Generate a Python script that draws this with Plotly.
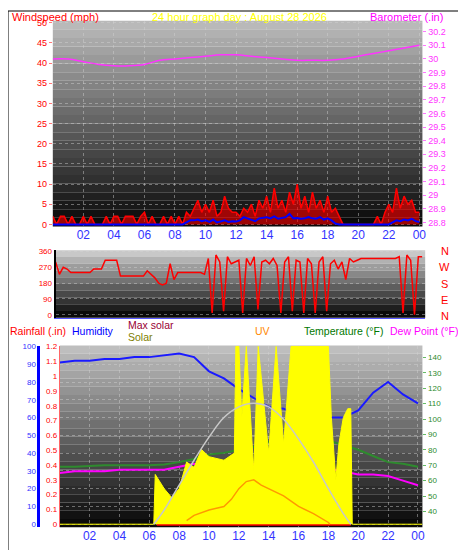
import plotly.graph_objects as go

# ---- data ----
hours_hourly = list(range(25))
barometer = [30.0, 30.0, 29.98, 29.96, 29.95, 29.95, 29.96, 29.99, 30.0, 30.01, 30.02, 30.03, 30.03,
             30.02, 30.01, 30.0, 29.99, 29.99, 29.99, 30.0, 30.02, 30.04, 30.06, 30.08, 30.1]

wind_gust = [2, 0, 2, 2, 0, 2, 0, 0, 2, 0, 2, 0, 0, 0, 2, 0,
             2, 2, 0, 2, 2, 2, 0, 2, 3, 0, 2, 0, 0, 2, 0, 2,
             0, 2, 0, 3, 2, 4, 6, 3,
             5, 3, 6, 2, 3, 7, 4, 3,
             3, 2, 4, 3, 5, 2, 6, 4,
             7, 3, 9, 4, 6, 3, 8, 5,
             10, 4, 7, 3, 8, 4, 6, 3,
             7, 3, 4, 2, 0, 0, 0, 0,
             0, 0, 0, 0, 0, 2, 0, 3,
             5, 3, 9, 4, 7, 5, 6, 3, 3]
wind_avg = [0] * 32 + [0, 0, 0, 0.5, 1, 1, 1.2, 0.8,
            1, 0.6, 1.2, 0.5, 0.8, 1, 0.6, 0.8,
            0.7, 1, 1.8, 1.5, 1.2, 0.8, 1.5, 1.6,
            1.8, 1.5, 2, 1.4, 1.6, 1.8, 2.6, 1.5,
            1.6, 1.4, 1.5, 1.8, 1.5, 1.4, 1.8, 1.2,
            1.5, 1, 0.2, 0, 0, 0, 0, 0,
            0, 0, 0, 0, 0, 0, 0, 0,
            0, 0.5, 1, 0.8, 1.2, 1, 1.4, 0.8, 0.6]
wind_dir = [300, 230, 270, 260, 240, 240, 240, 240,
            240, 240, 260, 260, 260, 310, 310, 310,
            310, 220, 220, 220, 220, 220, 220, 220,
            250, 230, 210, 180, 170, 180, 290, 200,
            240, 240, 240, 240, 240, 240, 240, 230,
            320, 10, 340, 300, 20, 330, 290, 300,
            310, 10, 320, 280, 330, 30, 300, 310,
            290, 320, 280, 10, 300, 330, 20, 310,
            300, 10, 320, 290, 10, 300, 330, 20,
            290, 310, 260, 300, 200, 320, 300, 310,
            320, 320, 320, 320, 320, 320, 320, 320,
            320, 320, 330, 10, 340, 310, 0, 330, 330]
hours_q = [i / 4 for i in range(len(wind_gust))]

humidity = [91, 92, 92, 93, 93, 94, 94, 95, 96, 94, 86, 82, 76, 71, 66, 65, 61, 61, 60, 60, 64, 74, 80, 73, 68]
temperature = [69, 69, 69.5, 70, 70, 70, 70, 70.5, 72, 74, 77, 78, 80, 82, 85, 85, 87, 87, 86, 83, 80, 76, 72, 71, 69]
dew_point = [65, 66, 66, 66, 67, 67, 67, 67, 69, 71, 70, 70, 70, 71, 70, 70, 71, 70, 68, 66, 64, 64, 63, 60, 57]

solar_t = [0, 6.3, 6.4, 7, 7.5, 8, 8.5, 9, 9.5, 10, 11, 11.7, 11.8, 12, 12.2, 12.5, 13, 13.3, 14, 14.5,
           15, 15.5, 16, 17, 18, 18.2, 18.5, 18.7, 19, 19.3, 19.5, 19.6, 24.3]
solar = [0, 0, 28, 20, 15, 20, 35, 32, 42, 38, 36, 40, 100, 100, 60, 100, 30, 100, 40, 100,
         45, 100, 100, 100, 100, 60, 25, 45, 60, 65, 65, 0, 0]
maxsolar_t = [6.3, 7, 8, 9, 10, 11, 12, 13, 14, 15, 16, 17, 18, 19, 19.5]
max_solar = [0, 8, 22, 36, 49, 60, 66, 68, 66, 59, 48, 35, 20, 6, 0]
uv_t = [8.5, 9, 10, 11, 11.5, 12, 12.5, 13, 13.5, 14, 14.5, 15, 15.5, 16, 17, 18, 18.1]
uv = [2, 5, 8, 10, 14, 20, 24, 25, 22, 20, 18, 16, 13, 10, 6, 1, 0]
rain_t = [6.5, 19.5]
rainfall = [0, 0]

tick_vals = list(range(2, 25, 2))
tick_text = ["02", "04", "06", "08", "10", "12", "14", "16", "18", "20", "22", "00"]

fig = go.Figure()
fig.add_trace(go.Scatter(x=hours_q, y=wind_gust, mode="lines", line=dict(color="red", width=1.5),
                         fill="tozeroy", fillcolor="rgba(255,0,0,0.6)", xaxis="x", yaxis="y"))
fig.add_trace(go.Scatter(x=hours_q, y=wind_avg, mode="lines", line=dict(color="blue", width=2), xaxis="x", yaxis="y"))
fig.add_trace(go.Scatter(x=hours_hourly, y=barometer, mode="lines", line=dict(color="#ff33ff", width=1.5, shape="spline"),
                         xaxis="x", yaxis="y2"))
fig.add_trace(go.Scatter(x=hours_q, y=wind_dir, mode="lines", line=dict(color="red", width=1.5), xaxis="x2", yaxis="y3"))
fig.add_trace(go.Scatter(x=solar_t, y=solar, mode="lines", line=dict(color="yellow", width=1), fill="tozeroy",
                         fillcolor="yellow", xaxis="x3", yaxis="y7"))
fig.add_trace(go.Scatter(x=maxsolar_t, y=max_solar, mode="lines", line=dict(color="#c8c8c8", width=1.5, shape="spline"),
                         xaxis="x3", yaxis="y7"))
fig.add_trace(go.Scatter(x=uv_t, y=uv, mode="lines", line=dict(color="#ff9900", width=1.5), xaxis="x3", yaxis="y8"))
fig.add_trace(go.Scatter(x=hours_hourly, y=humidity, mode="lines", line=dict(color="#1a1aff", width=2), xaxis="x3", yaxis="y4"))
fig.add_trace(go.Scatter(x=hours_hourly, y=temperature, mode="lines", line=dict(color="#2e8b2e", width=2), xaxis="x3", yaxis="y6"))
fig.add_trace(go.Scatter(x=hours_hourly, y=dew_point, mode="lines", line=dict(color="#ff00ff", width=2), xaxis="x3", yaxis="y6"))
fig.add_trace(go.Scatter(x=rain_t, y=rainfall, mode="lines", line=dict(color="red", width=3), xaxis="x3", yaxis="y5"))

grid = dict(showgrid=True, gridcolor="rgba(210,210,210,0.45)", griddash="dot", zeroline=False)
xcommon = dict(tickvals=tick_vals, ticktext=tick_text, tickfont=dict(color="#3333ff", size=12), ticks="", **grid)

# gradient backgrounds for the three panels
shapes = []
for xr, yr, top, n in (("x domain", "y domain", 185, 24), ("x2 domain", "y3 domain", 200, 10), ("x3 domain", "y4 domain", 190, 22)):
    for i in range(n):
        g = int(top - (top - 10) * i / (n - 1))
        shapes.append(dict(type="rect", xref=xr, yref=yr, x0=0, x1=1, y0=1 - (i + 1) / n, y1=1 - i / n,
                           fillcolor=f"rgb({g},{g},{g})", line=dict(width=0), layer="below"))
shapes.append(dict(type="rect", xref="paper", yref="paper", x0=0, x1=1, y0=0, y1=1, line=dict(color="black", width=1)))

fig.update_layout(
    width=466, height=550, margin=dict(l=0, r=0, t=0, b=0), showlegend=False,
    paper_bgcolor="white", plot_bgcolor="rgba(0,0,0,0)", font=dict(family="Liberation Sans, Arial", size=9),
    shapes=shapes,
    xaxis=dict(domain=[0.097, 0.897], range=[0, 24.2], anchor="y", **xcommon),
    yaxis=dict(domain=[0.604, 0.982], range=[-0.5, 50.5], dtick=5, tickfont=dict(color="red", size=9),
               ticks="outside", ticklen=3, tickcolor="#ff7777", **grid),
    yaxis2=dict(overlaying="y", side="right", range=[28.771, 30.28], dtick=0.1, tickformat="~g",
                tickfont=dict(color="#ff33ff", size=9), showgrid=False, zeroline=False,
                ticks="outside", ticklen=3, tickcolor="#ff77ff"),
    xaxis2=dict(domain=[0.103, 0.903], range=[0, 24.2], anchor="y3", showticklabels=False, showgrid=False,
                showline=True, linecolor="#5555ff"),
    yaxis3=dict(domain=[0.436, 0.56], range=[-17, 366], tickvals=[0, 90, 180, 270, 360],
                tickfont=dict(color="red", size=8), anchor="x2", showline=True, linecolor="black", linewidth=2,
                gridcolor="rgba(210,210,210,0.45)", griddash="dot", zeroline=False),
    xaxis3=dict(domain=[0.112, 0.897], range=[0, 24.3], anchor="y4", **xcommon),
    yaxis4=dict(domain=[0.051, 0.385], range=[-1.7, 100.5], dtick=10, anchor="free", position=0.066,
                tickfont=dict(color="#3333ff", size=8), showline=True, linecolor="blue", linewidth=3, **grid),
    yaxis5=dict(overlaying="y4", range=[-0.0204, 1.206], dtick=0.1, tickformat="~g", anchor="x3",
                tickfont=dict(color="red", size=8), showline=True, linecolor="#ff6666", linewidth=1,
                showgrid=False, zeroline=False),
    yaxis6=dict(overlaying="y4", side="right", anchor="x3", range=[29.7, 147.7], tickvals=list(range(40, 141, 10)),
                tickfont=dict(color="#2e8b2e", size=8), showgrid=False, zeroline=False,
                ticks="outside", ticklen=3, tickcolor="#66bb66"),
    yaxis7=dict(overlaying="y4", range=[-1.7, 100.5], visible=False),
    yaxis8=dict(overlaying="y4", range=[-1.7, 100.5], visible=False),
)

ann = [
    ("Windspeed (mph)", 0.005, 550 - 6, "red", "left", 11),
    ("24 hour graph day : August 28 2026", 0.5, 550 - 6, "yellow", "center", 11),
    ("Barometer (.in)", 0.945, 550 - 6, "#ff00ff", "right", 11),
    ("N", 0.945, 550 - 243, "red", "center", 11),
    ("W", 0.945, 550 - 259, "red", "center", 11),
    ("S", 0.945, 550 - 276, "red", "center", 11),
    ("E", 0.945, 550 - 292, "red", "center", 11),
    ("N", 0.945, 550 - 308, "red", "center", 11),
    ("Rainfall (.in)", 0.0, 550 - 324, "red", "left", 10.5),
    ("Humidity", 0.185, 550 - 324, "blue", "center", 10.5),
    ("Max solar", 0.255, 550 - 317, "#990033", "left", 10.5),
    ("Solar", 0.255, 550 - 330, "#808000", "left", 10.5),
    ("UV", 0.55, 550 - 324, "#ff8800", "center", 10.5),
    ("Temperature (°F)", 0.815, 550 - 324, "#007700", "right", 10.5),
    ("Dew Point (°F)", 0.978, 550 - 324, "#ff00ff", "right", 10.5),
]
for text, x, y, color, align, size in ann:
    fig.add_annotation(text=text, xref="paper", yref="paper", x=x, y=y / 550, xanchor=align, yanchor="middle",
                       showarrow=False, font=dict(color=color, size=size))

fig.write_html("out.html")
